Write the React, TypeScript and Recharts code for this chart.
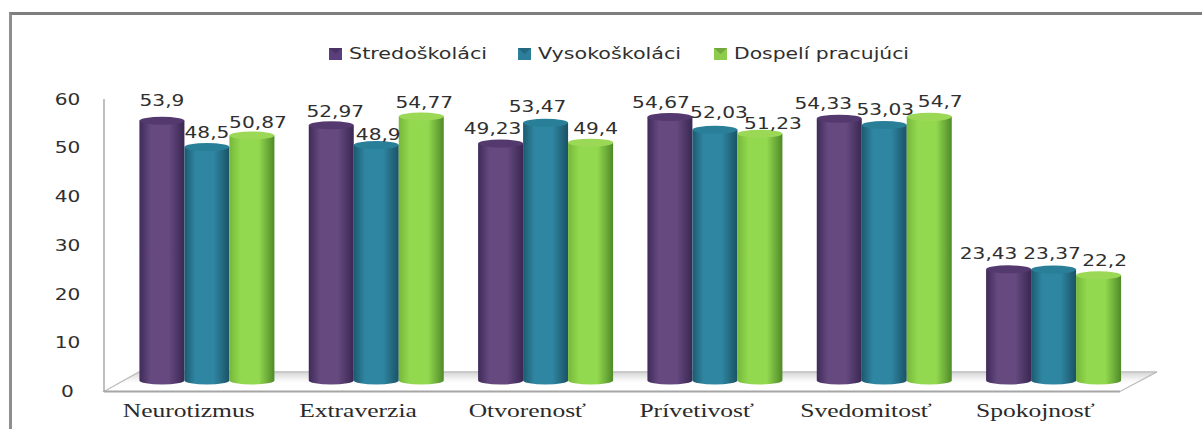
import React from "react";
import { BarChart, Bar, XAxis, YAxis, Legend, LabelList, Customized } from "recharts";

const categories = ["Neurotizmus", "Extraverzia", "Otvorenosť", "Prívetivosť", "Svedomitosť", "Spokojnosť"];
const stredoskolaci = [53.9, 52.97, 49.23, 54.67, 54.33, 23.43];
const vysokoskolaci = [48.5, 48.9, 53.47, 52.03, 53.03, 23.37];
const dospeli = [50.87, 54.77, 49.4, 51.23, 54.7, 22.2];
const yTicks = [0, 10, 20, 30, 40, 50, 60];

const W = 1202, H = 429;
const PLOT = { left: 104, right: 1120, top: 99, bottom: 391.5 };
const DEPTH = { dx: 19, dy: -8 };

const data = categories.map((name, i) => ({
  name, a: stredoskolaci[i], b: vysokoskolaci[i], c: dospeli[i],
}));

const SERIES = [
  { key: "a", name: "Stredoškoláci", grad: "gA", cap: "#54396f", swatch: "#5b3f7c", legendX: 329, textW: 138 },
  { key: "b", name: "Vysokoškoláci", grad: "gB", cap: "#2a7f98", swatch: "#2b7f9a", legendX: 518, textW: 143 },
  { key: "c", name: "Dospelí pracujúci", grad: "gC", cap: "#9bd856", swatch: "#8ccb4c", legendX: 714, textW: 175 },
];

// manual label placement of the source chart: [dx from bar centre, dy from bar top]
const LABEL_SHIFT: Record<string, [number, number][]> = {
  a: [[0, -20.5], [4, -14], [-8, -15], [-9, -15], [-16, -15], [-20, -16]],
  b: [[0, -15], [2, -11], [-8, -16], [4, -17], [1, -16], [-1.5, -16]],
  c: [[6, -13], [3, -14], [5, -14], [13, -10], [11, -15], [6, -15]],
};

const SANS = "'DejaVu Sans', sans-serif";
const SERIF = "'Liberation Serif', serif";

function WideText({ x, y, text, sx = 1.3, size = 15.5, font = SANS, fill = "#2f2f2f" }: any) {
  return (
    <text
      transform={`translate(${x},${y}) scale(${sx},1)`}
      textAnchor="middle"
      dominantBaseline="central"
      fontFamily={font}
      fontSize={size}
      fill={fill}
    >
      {text}
    </text>
  );
}

function Cylinder({ x, y, width, height, grad, cap }: any) {
  const rx = width / 2;
  const ry = 4;
  const X = x + DEPTH.dx;
  const Y = y + DEPTH.dy;
  const B = Y + height - 3;
  const d = `M${X},${Y} L${X},${B} A${rx},${ry} 0 0 0 ${X + width},${B} L${X + width},${Y} Z`;
  return (
    <g>
      <path d={d} fill={`url(#${grad})`} />
      <ellipse cx={X + rx} cy={Y} rx={rx} ry={ry} fill={cap} />
    </g>
  );
}

function makeLabel(key: string) {
  return function BarLabel({ x, y, width, value, index }: any) {
    const [dx, dy] = LABEL_SHIFT[key][index];
    return (
      <WideText
        x={x + width / 2 + DEPTH.dx + dx}
        y={y + DEPTH.dy + dy}
        text={String(value).replace(".", ",")}
      />
    );
  };
}

function Floor() {
  const backY = PLOT.bottom + DEPTH.dy * 2.45;
  const l = PLOT.left, r = PLOT.right, b = PLOT.bottom;
  return (
    <g>
      <polygon
        points={`${l},${b} ${l + 35},${backY} ${r + 37},${backY} ${r},${b}`}
        fill="url(#gFloor)"
        stroke="#bcbcbc"
        strokeWidth={1.2}
      />
      <line x1={l} y1={PLOT.top} x2={l} y2={b} stroke="#b0b0b0" strokeWidth={1.6} />
      <line x1={l} y1={b} x2={r} y2={b} stroke="#a6a6a6" strokeWidth={2} />
    </g>
  );
}

function LegendContent() {
  return (
    <svg width={W} height={30} style={{ display: "block" }}>
      {SERIES.map((s) => (
        <g key={s.key}>
          <rect x={s.legendX} y={9} width={13} height={12} fill={s.swatch} />
          <path d={`M${s.legendX},9 L${s.legendX + 6.5},15 L${s.legendX + 13},9 Z`} fill="#000" opacity={0.18} />
          <text
            x={s.legendX + 20}
            y={20}
            fontFamily={SANS}
            fontSize={15.5}
            fill="#2f2f2f"
            textLength={s.textW}
            lengthAdjust="spacingAndGlyphs"
          >
            {s.name}
          </text>
        </g>
      ))}
    </svg>
  );
}

function YTick({ y, payload }: any) {
  return <WideText x={67.5} y={y} text={payload.value} />;
}

function XTick({ x, payload }: any) {
  return <WideText x={x} y={411} text={payload.value} font={SERIF} size={18} sx={1.42} fill="#2a2a2a" />;
}

function Stops({ edge, mid, edge2 }: any) {
  return (
    <>
      <stop offset="0" stopColor={edge} />
      <stop offset="0.25" stopColor={mid} />
      <stop offset="0.65" stopColor={mid} />
      <stop offset="1" stopColor={edge2} />
    </>
  );
}

export default function App() {
  return (
    <div style={{ position: "fixed", left: 0, top: 0, width: W, height: H, background: "#fff", overflow: "hidden" }}>
      <div
        style={{
          position: "absolute", left: 9, top: 12, right: -5, bottom: -5,
          borderLeft: "3px solid #8f8f8f", borderTop: "3px solid #7f7f7f",
        }}
      />
      <BarChart
        width={W}
        height={H}
        data={data}
        barGap={0}
        barCategoryGap="9.7%"
        margin={{ top: PLOT.top, right: W - PLOT.right, bottom: 0, left: 0 }}
        style={{ position: "absolute", left: 0, top: 0 }}
      >
        <defs>
          <linearGradient id="gA" x1="0" x2="1" y1="0" y2="0"><Stops edge="#3f2b59" mid="#65497f" edge2="#3a2752" /></linearGradient>
          <linearGradient id="gB" x1="0" x2="1" y1="0" y2="0"><Stops edge="#1c5a70" mid="#2f86a2" edge2="#1a5265" /></linearGradient>
          <linearGradient id="gC" x1="0" x2="1" y1="0" y2="0"><Stops edge="#76b83a" mid="#93d94f" edge2="#4f8a28" /></linearGradient>
          <linearGradient id="gFloor" x1="0" x2="0" y1="0" y2="1">
            <stop offset="0" stopColor="#d4d4d4" />
            <stop offset="0.4" stopColor="#f6f6f6" />
            <stop offset="0.6" stopColor="#ffffff" />
          </linearGradient>
        </defs>
        <Customized component={<Floor />} />
        <XAxis dataKey="name" height={H - PLOT.bottom} axisLine={false} tickLine={false} tick={<XTick />} interval={0} />
        <YAxis width={PLOT.left} domain={[0, 60]} ticks={yTicks} axisLine={false} tickLine={false} tick={<YTick />} />
        <Legend
          layout="horizontal"
          verticalAlign="middle"
          align="center"
          content={<LegendContent />}
          wrapperStyle={{ position: "absolute", left: 0, top: 39, width: W, height: 30 }}
        />
        {SERIES.map((s) => (
          <Bar
            key={s.key}
            dataKey={s.key}
            name={s.name}
            fill={s.swatch}
            isAnimationActive={false}
            shape={(p: any) => <Cylinder {...p} grad={s.grad} cap={s.cap} />}
          >
            <LabelList dataKey={s.key} content={makeLabel(s.key)} />
          </Bar>
        ))}
      </BarChart>
    </div>
  );
}
